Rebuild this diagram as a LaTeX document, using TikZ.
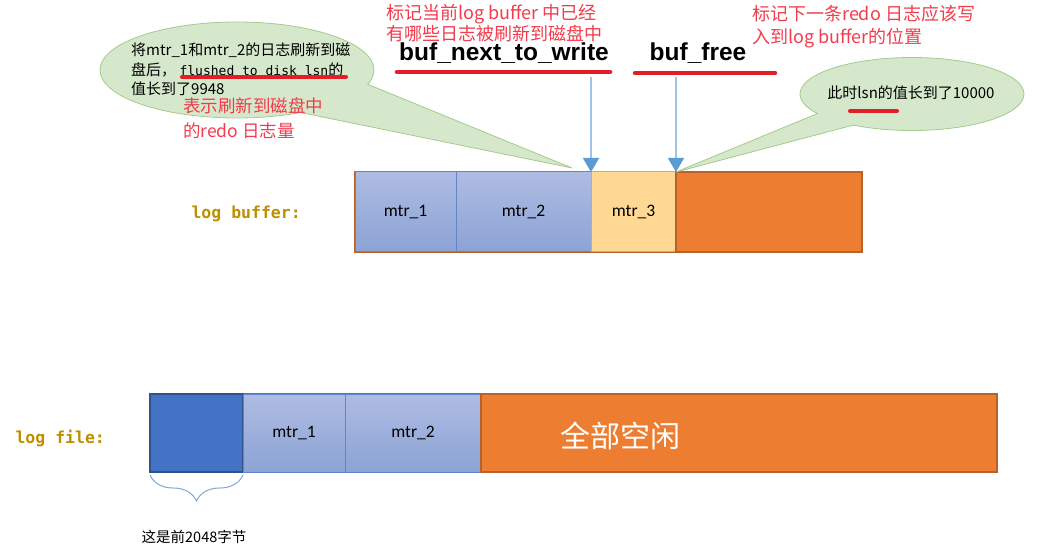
\documentclass[tikz,border=0pt]{standalone}
\usepackage{fontspec}
\setmainfont{Liberation Sans}
\newfontfamily\cjk{Noto Sans CJK SC}
\newfontfamily\calib{Carlito}
\newfontfamily\mono{DejaVu Sans Mono}
\usetikzlibrary{arrows.meta,shapes.callouts,decorations.pathreplacing}
\definecolor{segtop}{HTML}{AEBCE2}
\definecolor{segbot}{HTML}{8CA3D5}
\definecolor{segedge}{HTML}{5F86CB}
\definecolor{headfill}{HTML}{4472C4}
\definecolor{headedge}{HTML}{2F528F}
\definecolor{pendfill}{HTML}{FFD894}
\definecolor{pendedge}{HTML}{F2A535}
\definecolor{freefill}{HTML}{ED7D31}
\definecolor{freeedge}{HTML}{B8622B}
\definecolor{notefill}{HTML}{D5E8CB}
\definecolor{noteedge}{HTML}{A5CA8C}
\definecolor{markred}{HTML}{E41E26}
\definecolor{annred}{HTML}{F23B4C}
\definecolor{gold}{HTML}{BF8F00}
\definecolor{ptrline}{HTML}{9DC3E6}
\definecolor{ptrtip}{HTML}{5B9BD5}
\definecolor{braceblue}{HTML}{7FA7D9}
\begin{document}
\begin{tikzpicture}[x=1pt, y=-1pt,
  seg/.style={draw, inner sep=0pt, outer sep=0pt, anchor=north west, minimum height=80pt,
    font=\calib\fontsize{17.5}{20}\selectfont},
  logseg/.style={seg, top color=segtop, bottom color=segbot, draw=segedge, line width=1pt},
  freeseg/.style={seg, fill=freefill, draw=freeedge, line width=2pt},
  note/.style={ellipse callout, fill=notefill, draw=noteedge, line width=0.8pt, inner sep=0pt},
  notetext/.style={anchor=west, align=left, inner sep=0pt},
  ptr/.style={draw=ptrline, line width=1.5pt, -{Triangle[width=16pt,length=14pt,color=ptrtip]}},
  redline/.style={draw=markred, line width=4.5pt, line cap=round},
  rowlbl/.style={anchor=west, text=gold, font=\mono\bfseries\fontsize{16.5}{20}\selectfont}]
\useasboundingbox (0,0) rectangle (1047,553);
% log buffer
\node[seg, draw=freeedge, line width=2.5pt, minimum width=507pt] (bufbox) at (355,172) {};
\node[logseg, minimum width=101pt] (mtr1b) at (355,172) {mtr\_1};
\node[logseg, minimum width=135pt] (mtr2b) at (456,172) {mtr\_2};
\node[seg, fill=pendfill, draw=pendedge, line width=1pt, minimum width=85pt] (mtr3b) at (591,172) {mtr\_3};
\node[freeseg, minimum width=186pt] (freeb) at (676,172) {};
\node[rowlbl] (buflbl) at (188,214) {log buffer:};
% log file
\node[seg, draw=freeedge, line width=2.5pt, minimum width=847pt, minimum height=78pt] (filebox) at (150,394) {};
\node[seg, fill=headfill, draw=headedge, line width=2.5pt, minimum width=93pt, minimum height=78pt] (headf) at (150,394) {};
\node[logseg, minimum width=102pt, minimum height=78pt] (mtr1f) at (243,394) {mtr\_1};
\node[logseg, minimum width=136pt, minimum height=78pt] (mtr2f) at (345,394) {mtr\_2};
\node[freeseg, minimum width=516pt, minimum height=78pt] (freef) at (481,394) {};
\node[text=white, font=\cjk\fontsize{30}{34}\selectfont] (freetxt) at (620,436) {全部空闲};
\node[rowlbl] (filelbl) at (12,438) {log file:};
\draw[braceblue, line width=1pt, decorate, decoration={brace, mirror, amplitude=26pt}]
  ([yshift=-3pt]headf.south west) -- ([yshift=-3pt]headf.south east);
\node[font=\cjk\fontsize{14.5}{17}\selectfont] (headtxt) at (194,537) {这是前2048字节};
% pointers
\node[font=\bfseries\fontsize{24.5}{28}\selectfont] (nextlbl) at (504,53) {buf\_next\_to\_write};
\node[font=\bfseries\fontsize{24.5}{28}\selectfont] (freelbl) at (698,53) {buf\_free};
\draw[redline] (397,72) -- (610,72);
\draw[redline] (635,73) -- (775,73);
\draw[ptr] ([yshift=-10pt]nextlbl.south -| mtr3b.north west) -- (mtr3b.north west);
\draw[ptr] ([yshift=-10pt]freelbl.south -| freeb.north west) -- (freeb.north west);
\node[notetext, text=annred, font=\cjk\fontsize{18}{20.5}\selectfont] (nextnote) at (386,23)
  {标记当前log buffer 中已经\\有哪些日志被刷新到磁盘中};
\node[notetext, text=annred, font=\cjk\fontsize{18}{23}\selectfont] (freenote) at (752,26.5)
  {标记下一条redo 日志应该写\\入到log buffer的位置};
% callouts
\node[note, minimum width=274pt, minimum height=96pt, callout pointer arc=45,
  callout absolute pointer={([xshift=-19pt,yshift=4pt]mtr3b.north west)}] (note1) at (237,70) {};
\node[notetext, font=\cjk\fontsize{15}{19.5}\selectfont] (note1txt) at (131,69.5)
  {将mtr\_1和mtr\_2的日志刷新到磁\\盘后， {\mono\fontsize{13}{19.5}\selectfont flushed to disk lsn}的\\值长到了9948};
\draw[redline, line width=4pt] (182,77) -- (346,77);
\node[notetext, text=annred, font=\cjk\fontsize{17.5}{25}\selectfont] (flushnote) at (183,118.5)
  {表示刷新到磁盘中\\的redo 日志量};
\node[note, minimum width=224pt, minimum height=73pt, callout pointer arc=26,
  callout absolute pointer={(freeb.north west)}] (note2) at (912,94) {};
\node[font=\cjk\fontsize{15}{18}\selectfont] (note2txt) at (911,93) {此时lsn的值长到了10000};
\draw[redline, line width=4pt] (850,111) -- (897,111);
\end{tikzpicture}
\end{document}
